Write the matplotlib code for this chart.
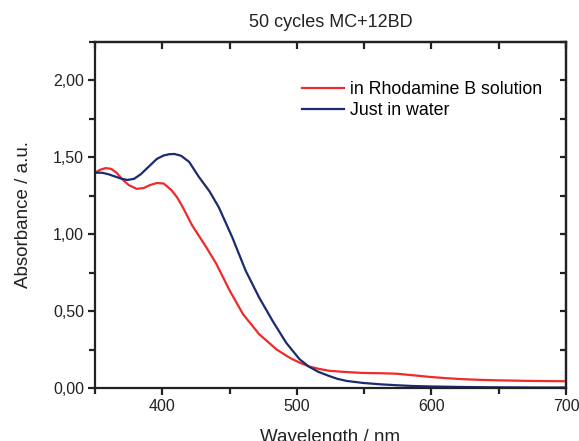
import matplotlib
matplotlib.use("Agg")
import matplotlib.pyplot as plt
from matplotlib.ticker import MultipleLocator, FixedLocator, FixedFormatter

plt.rcParams['font.family'] = ['Liberation Sans', 'DejaVu Sans']

# Data
wl_red = [350, 354, 358, 362, 366, 370, 375, 381, 386, 391, 396, 401, 407, 411, 415,
          422, 432, 440, 450, 460, 472, 485, 495, 502, 509, 516, 524, 536, 549, 562,
          574, 586, 599, 611, 624, 636, 648, 661, 673, 686, 700]
abs_red = [1.40, 1.42, 1.43, 1.425, 1.40, 1.36, 1.32, 1.295, 1.30, 1.32, 1.333, 1.33,
           1.285, 1.24, 1.18, 1.06, 0.925, 0.81, 0.635, 0.48, 0.35, 0.25, 0.195, 0.165,
           0.14, 0.125, 0.112, 0.104, 0.098, 0.096, 0.093, 0.083, 0.072, 0.064, 0.057,
           0.053, 0.050, 0.048, 0.046, 0.045, 0.044]

wl_blue = [350, 355, 360, 365, 370, 374, 379, 384, 390, 396, 401, 405, 409, 414, 420,
           427, 435, 442, 452, 462, 472, 482, 492, 502, 509, 516, 524, 530, 537, 549,
           562, 574, 586, 600, 620, 640, 660, 680, 700]
abs_blue = [1.40, 1.40, 1.39, 1.375, 1.36, 1.353, 1.36, 1.39, 1.44, 1.49, 1.512, 1.52,
            1.522, 1.51, 1.47, 1.375, 1.28, 1.175, 0.98, 0.762, 0.588, 0.436, 0.295,
            0.187, 0.139, 0.105, 0.078, 0.060, 0.046, 0.033, 0.024, 0.018, 0.013,
            0.010, 0.007, 0.005, 0.004, 0.003, 0.003]

y_ticks = [0.0, 0.5, 1.0, 1.5, 2.0]
y_labels = ['0,00', '0,50', '1,00', '1,50', '2,00']
x_ticks = [400, 500, 600, 700]

fig = plt.figure(figsize=(5.79, 4.41), dpi=100)
ax = fig.add_axes([95 / 579, 1 - 388 / 441, 471 / 579, 346 / 441])

ax.plot(wl_red, abs_red, color='#ee2a2a', lw=1.6, label='in Rhodamine B solution')
ax.plot(wl_blue, abs_blue, color='#1c2a6e', lw=1.6, label='Just in water')

ax.set_xlim(350, 700)
ax.set_ylim(0, 2.25)
ax.xaxis.set_major_locator(FixedLocator(x_ticks))
ax.xaxis.set_minor_locator(MultipleLocator(50))
ax.yaxis.set_major_locator(FixedLocator(y_ticks))
ax.yaxis.set_major_formatter(FixedFormatter(y_labels))
ax.yaxis.set_minor_locator(MultipleLocator(0.25))

for s in ax.spines.values():
    s.set_linewidth(1.6)
    s.set_color('#222222')

ax.tick_params(which='both', direction='out', width=1.6, color='#222222',
               labelsize=11.5, labelcolor='#222222', top=False, right=False)
ax.tick_params(which='major', length=5, pad=3)
ax.tick_params(which='minor', length=4)

# top/right ticks pointing inward
sec_x = ax.secondary_xaxis('top')
sec_x.set_xticks(x_ticks)
sec_x.set_xticklabels([])
sec_x.xaxis.set_minor_locator(MultipleLocator(50))
sec_x.tick_params(which='both', direction='in', width=1.6, length=5, color='#222222')
sec_y = ax.secondary_yaxis('right')
sec_y.set_yticks(y_ticks)
sec_y.set_yticklabels([])
sec_y.yaxis.set_minor_locator(MultipleLocator(0.25))
sec_y.tick_params(which='both', direction='in', width=1.6, length=4, color='#222222')
for sec in (sec_x, sec_y):
    for s in sec.spines.values():
        s.set_linewidth(1.6)
        s.set_color('#222222')

ax.set_xlabel('Wavelength / nm', fontsize=13.5, color='#222222', labelpad=11)
ax.set_ylabel('Absorbance / a.u.', fontsize=13.5, color='#222222', labelpad=15)
ax.set_title('50 cycles MC+12BD', fontsize=13, color='#222222', pad=11)

ax.legend(loc='upper left', bbox_to_anchor=(0.44, 0.887), frameon=False,
          fontsize=12.8, handlelength=2.36, handletextpad=0.34, labelspacing=0.24,
          borderpad=0, borderaxespad=0)

fig.savefig('out.png', dpi=100)
